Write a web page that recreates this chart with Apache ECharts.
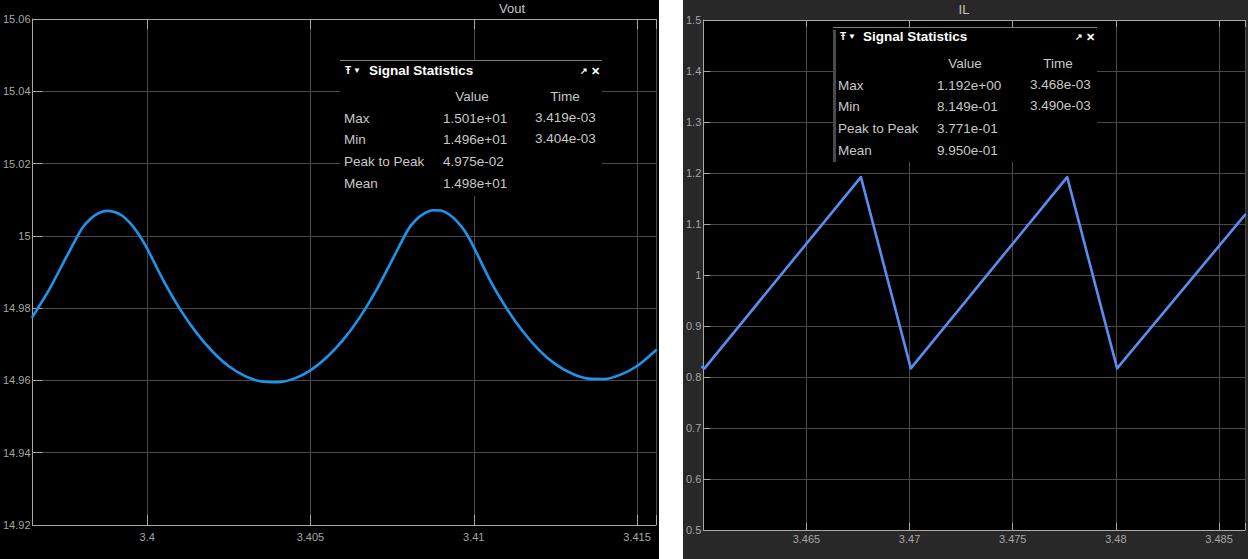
<!DOCTYPE html>
<html>
<head>
<meta charset="utf-8">
<script src="https://cdn.jsdelivr.net/npm/echarts@6/dist/echarts.min.js"></script>
<style>
  html, body { margin: 0; padding: 0; background: #fff; width: 1248px; height: 559px; overflow: hidden;
    font-family: "Liberation Sans", Arial, sans-serif; }
  #vout { position: absolute; left: 0; top: 0; width: 659px; height: 559px; background: #000; }
  #il { position: absolute; left: 683px; top: 0; width: 565px; height: 559px; background: #282828; }
  .stats { position: absolute; background: #000; color: #c8c8c8; font-size: 13.5px; z-index: 5; }
  .stats span { position: absolute; line-height: 16px; white-space: nowrap; }
  .stats .topline { position: absolute; left: 0; top: 0; right: 0; height: 1px; background: #7c7c7c; }
  .stats .sidebar { position: absolute; left: 0; top: 3px; bottom: 0; width: 3px; background: #4a4a4a; }
  .stats .ttl { color: #fff; font-weight: bold; }
  .stats .ico { color: #fff; }
</style>
</head>
<body>
<div id="vout"></div>
<div id="il"></div>

<script>
// ---- Vout waveform (time in ms, voltage in V) ----
const voutTime = [3.39649, 3.3970, 3.3975, 3.3980, 3.39825, 3.3985, 3.39875, 3.3990, 3.39925, 3.3995,
  3.39975, 3.4000, 3.4005, 3.4010, 3.4015, 3.4020, 3.4025, 3.4030, 3.4035, 3.4040,
  3.4045, 3.4050, 3.4055, 3.4060, 3.4065, 3.4070, 3.4075, 3.4080, 3.40825, 3.4085,
  3.40875, 3.4090, 3.40925, 3.4095, 3.40975, 3.4100, 3.4105, 3.4110, 3.4115, 3.4120,
  3.4125, 3.4130, 3.4135, 3.4140, 3.4145, 3.4150, 3.4155, 3.41558];
const voutValue = [14.9776, 14.9851, 14.9937, 15.0020, 15.0046, 15.0062, 15.0069, 15.0066, 15.0055, 15.0033,
  15.0003, 14.9965, 14.9876, 14.9798, 14.9733, 14.9680, 14.9639, 14.9612, 14.9597, 14.9595,
  14.9605, 14.9628, 14.9664, 14.9712, 14.9773, 14.9847, 14.9933, 15.0019, 15.0046, 15.0063,
  15.0071, 15.0070, 15.0059, 15.0039, 15.0010, 14.9969, 14.9877, 14.9800, 14.9736, 14.9684,
  14.9645, 14.9619, 14.9605, 14.9604, 14.9616, 14.9640, 14.9677, 14.9684];

// ---- Inductor current waveform (time in ms, current in A) ----
const ilTime = [3.45995, 3.46006, 3.46764, 3.47006, 3.47764, 3.48006, 3.48626];
const ilValue = [0.8195, 0.8170, 1.1920, 0.8170, 1.1920, 0.8170, 1.1180];

// ---- axis extents and tick values ----
const voutXRange = [3.39649, 3.41558];
const voutYTicks = [14.92, 14.94, 14.96, 14.98, 15, 15.02, 15.04, 15.06];
const ilXRange = [3.46, 3.48626];
const ilYTicks = [0.5, 0.6, 0.7, 0.8, 0.9, 1, 1.1, 1.2, 1.3, 1.4, 1.5];
const xTickStep = 0.005;

// ---- Signal Statistics tables ----
const statRows = ['Max', 'Min', 'Peak to Peak', 'Mean'];
const voutStatValues = ['1.501e+01', '1.496e+01', '4.975e-02', '1.498e+01'];
const voutStatTimes = ['3.419e-03', '3.404e-03', '', ''];
const ilStatValues = ['1.192e+00', '8.149e-01', '3.771e-01', '9.950e-01'];
const ilStatTimes = ['3.468e-03', '3.490e-03', '', ''];

const FONT = '"Liberation Sans", Arial, sans-serif';
const AXIS_COLOR = '#a8a8a8';
const GRID_COLOR = '#4a4a4a';
const LABEL_COLOR = '#a6a6a6';

function zip(xs, ys) { return xs.map((x, i) => [x, ys[i]]); }

// labels only on round multiples of the tick step, never on the axis start
function makeXLabel(xMin) {
  return function (v) {
    if (v <= xMin + 1e-9) return '';
    const k = v / xTickStep;
    return Math.abs(k - Math.round(k)) < 1e-4 ? String(+v.toFixed(3)) : '';
  };
}

function buildOption(cfg) {
  const yStep = cfg.yTicks[1] - cfg.yTicks[0];
  const xCommon = {
    type: 'value', min: cfg.xRange[0], max: cfg.xRange[1],
    minInterval: xTickStep, maxInterval: xTickStep, splitNumber: 4
  };
  return {
    animation: false,
    grid: Object.assign({ show: true, backgroundColor: '#000', borderWidth: 0 }, cfg.grid),
    xAxis: [
      Object.assign({}, xCommon, {
        position: 'bottom',
        axisLine: { show: true, onZero: false, lineStyle: { color: AXIS_COLOR, width: 1 } },
        axisTick: { show: true, inside: true, length: cfg.tickLen, lineStyle: { color: AXIS_COLOR } },
        axisLabel: { margin: cfg.xLabelMargin, color: LABEL_COLOR, fontSize: 11, fontFamily: FONT,
          formatter: makeXLabel(cfg.xRange[0]) },
        splitLine: { show: true, lineStyle: { color: GRID_COLOR, width: 1 } }
      }),
      Object.assign({}, xCommon, {
        position: 'top',
        axisLine: { show: true, onZero: false, lineStyle: { color: AXIS_COLOR, width: 1 } },
        axisTick: { show: true, inside: true, length: cfg.tickLen, lineStyle: { color: AXIS_COLOR } },
        axisLabel: { show: false },
        splitLine: { show: false }
      })
    ],
    yAxis: [{
      type: 'value',
      min: cfg.yTicks[0], max: cfg.yTicks[cfg.yTicks.length - 1], interval: yStep,
      axisLine: { show: true, onZero: false, lineStyle: { color: AXIS_COLOR, width: 1 } },
      axisTick: { show: true, inside: true, length: cfg.tickLen, lineStyle: { color: AXIS_COLOR } },
      axisLabel: { margin: 2, color: LABEL_COLOR, fontSize: 11, fontFamily: FONT,
        formatter: v => String(+v.toFixed(cfg.yDigits)) },
      splitLine: { show: true, lineStyle: { color: GRID_COLOR, width: 1 } }
    }],
    graphic: [{
      type: 'text', x: cfg.titleX, y: cfg.titleY, z: 10,
      style: { text: cfg.title, fill: '#c4c4c4', font: '13px ' + FONT,
        textAlign: 'center', textVerticalAlign: 'middle' }
    }],
    series: [{
      type: 'line', xAxisIndex: 0, yAxisIndex: 0,
      data: zip(cfg.t, cfg.v),
      showSymbol: false, smooth: cfg.smooth, clip: true,
      lineStyle: { color: cfg.color, width: 2.6, join: 'round', cap: 'round' }
    }]
  };
}

const voutChart = echarts.init(document.getElementById('vout'), null, { renderer: 'svg' });
voutChart.setOption(buildOption({
  grid: { left: 31, top: 19, right: -2, bottom: 34 },
  xRange: voutXRange, yTicks: voutYTicks, yDigits: 2,
  tickLen: 10, xLabelMargin: 6,
  title: 'Vout', titleX: 512, titleY: 8,
  t: voutTime, v: voutValue, smooth: 0.25, color: '#1b95ef'
}));

const ilChart = echarts.init(document.getElementById('il'), null, { renderer: 'svg' });
ilChart.setOption(buildOption({
  grid: { left: 19, top: 20, right: -2, bottom: 29 },
  xRange: ilXRange, yTicks: ilYTicks, yDigits: 1,
  tickLen: 7, xLabelMargin: 3,
  title: 'IL', titleX: 281, titleY: 9,
  t: ilTime, v: ilValue, smooth: false, color: '#5b8df0'
}));

// Signal Statistics panels drawn over the plots
function buildStats(box) {
  const el = document.createElement('div');
  el.className = 'stats';
  Object.assign(el.style, { left: box.x + 'px', top: box.y + 'px', width: box.w + 'px', height: box.h + 'px' });
  let html = '<div class="topline"></div>';
  if (box.sidebar) html += '<div class="sidebar"></div>';
  const c = box.cols;
  const at = (x, yc, text, cls, extra) =>
    `<span class="${cls || ''}" style="left:${x}px;top:${yc - 8}px;${extra || ''}">${text}</span>`;
  html += at(c.icon, box.titleY, '\u0166', 'ico', 'font-size:10px;font-weight:bold;');
  html += at(c.icon + 8, box.titleY, '\u25BC', 'ico', 'font-size:8px;');
  html += at(c.title, box.titleY, 'Signal Statistics', 'ttl');
  html += at(c.close - 11, box.titleY, '\u2197', 'ico', 'font-size:9px;font-weight:bold;');
  html += at(c.close, box.titleY, '\u2715', 'ico', 'font-size:11px;font-weight:bold;');
  html += at(c.valueHead, 37, 'Value', '', 'transform:translateX(-50%);');
  html += at(c.timeHead, 37, 'Time', '', 'transform:translateX(-50%);');
  const rowY = [59, 80, 102, 124];
  statRows.forEach((name, i) => {
    html += at(c.label, rowY[i], name);
    html += at(c.value, rowY[i], box.values[i]);
    if (box.times[i]) html += at(c.time, rowY[i] - 1, box.times[i]);
  });
  el.innerHTML = html;
  document.body.appendChild(el);
}

buildStats({
  x: 340, y: 60, w: 262, h: 136, titleY: 11, sidebar: false,
  cols: { icon: 5, title: 29, close: 251, valueHead: 132, timeHead: 225, label: 4, value: 103, time: 195 },
  values: voutStatValues, times: voutStatTimes
});
buildStats({
  x: 833, y: 27, w: 264, h: 135, titleY: 10, sidebar: true,
  cols: { icon: 7, title: 30, close: 253, valueHead: 132, timeHead: 225, label: 5, value: 104, time: 197 },
  values: ilStatValues, times: ilStatTimes
});
</script>
</body>
</html>
